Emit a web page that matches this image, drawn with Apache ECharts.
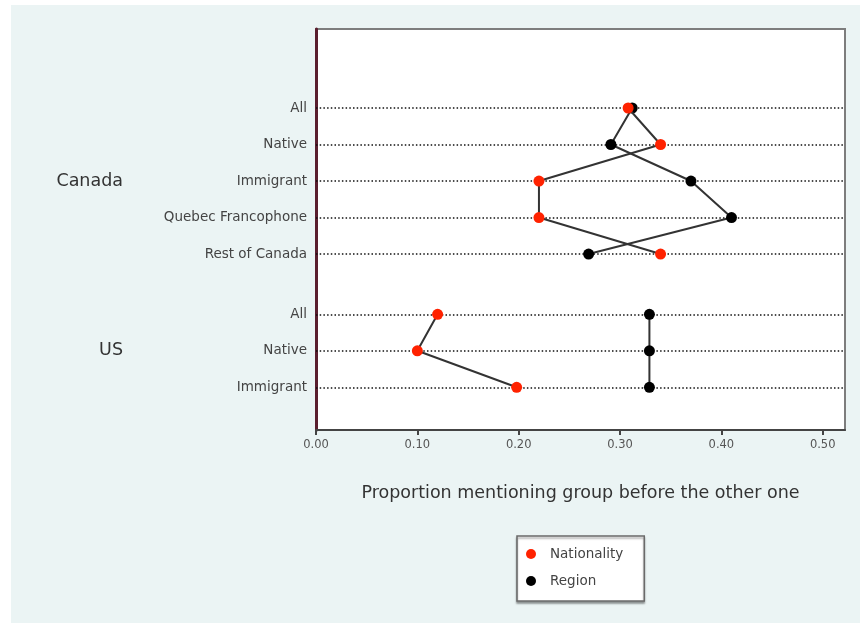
<!DOCTYPE html>
<html>
<head>
<meta charset="utf-8">
<script src="https://cdn.jsdelivr.net/npm/echarts@6/dist/echarts.min.js"></script>
<style>
  html, body { margin: 0; padding: 0; background: #ffffff; }
  #chart { position: absolute; left: 11px; top: 5px; width: 849px; height: 618px; }
</style>
</head>
<body>
<div id="chart"></div>
<script>
// Row labels for each country block
const canadaRows = ['All', 'Native', 'Immigrant', 'Quebec Francophone', 'Rest of Canada'];
const usRows = ['All', 'Native', 'Immigrant'];
const groupNames = ['Canada', 'US'];

// Proportion mentioning each group first
const canadaNationality = [0.308, 0.340, 0.220, 0.220, 0.340];
const canadaRegion      = [0.312, 0.291, 0.370, 0.410, 0.269];
const usNationality     = [0.120, 0.100, 0.198];
const usRegion          = [0.329, 0.329, 0.329];

// Horizontal axis ticks
const xTicks = [0, 0.1, 0.2, 0.3, 0.4, 0.5];

// Vertical layout: one unit per row, with a wider gap between the two blocks
const blockGap = 1.65;
const canadaPos = canadaRows.map((_, i) => i);
const usPos = usRows.map((_, i) => canadaRows.length - 1 + blockGap + i);
const allPos = canadaPos.concat(usPos);
const rowLabel = {};
canadaPos.forEach((p, i) => { rowLabel[p.toFixed(2)] = canadaRows[i]; });
usPos.forEach((p, i) => { rowLabel[p.toFixed(2)] = usRows[i]; });
const groupPos = [canadaPos[Math.floor(canadaPos.length / 2)], usPos[Math.floor(usPos.length / 2)]];
const groupLabel = {};
groupPos.forEach((p, i) => { groupLabel[p.toFixed(2)] = groupNames[i]; });

function pairs(xs, ys) { return xs.map((v, i) => [v, ys[i]]); }
// null between blocks keeps the two countries unconnected
const nationalityData = pairs(canadaNationality, canadaPos).concat([[null, null]], pairs(usNationality, usPos));
const regionData = pairs(canadaRegion, canadaPos).concat([[null, null]], pairs(usRegion, usPos));

const FONT = 'DejaVu Sans';
const chart = echarts.init(document.getElementById('chart'), null, { renderer: 'canvas' });

chart.setOption({
  backgroundColor: '#ebf4f4',
  animation: false,
  textStyle: { fontFamily: FONT },
  grid: {
    left: 305, top: 24, right: 15, bottom: 193,
    show: true, backgroundColor: '#ffffff', borderColor: '#7d7d7d', borderWidth: 2
  },
  legend: {
    data: ['Nationality', 'Region'],
    orient: 'vertical',
    left: 506, top: 531,
    icon: 'circle',
    itemWidth: 10, itemHeight: 10, itemGap: 11,
    padding: [10, 21, 12, 9],
    backgroundColor: '#ffffff',
    borderColor: '#6a6a6a', borderWidth: 1.5,
    shadowColor: 'rgba(0,0,0,0.35)', shadowBlur: 2, shadowOffsetY: 2,
    textStyle: { fontFamily: FONT, fontSize: 13.5, color: '#444', lineHeight: 16, padding: [0, 0, 0, 9] }
  },
  xAxis: {
    type: 'value',
    min: 0, max: 0.522,
    name: 'Proportion mentioning group before the other one',
    nameLocation: 'middle', nameGap: 54,
    nameTextStyle: { fontFamily: FONT, fontSize: 17.5, color: '#333' },
    axisLine: { show: true, onZero: false, lineStyle: { color: '#444', width: 2 } },
    axisTick: { show: true, length: 5, customValues: xTicks, lineStyle: { color: '#444', width: 2 } },
    axisLabel: {
      customValues: xTicks, margin: 9,
      fontFamily: FONT, fontSize: 11.5, color: '#555',
      formatter: v => v.toFixed(2)
    },
    splitLine: { show: false }
  },
  yAxis: [{
    type: 'value',
    inverse: true,
    min: -2.164, max: 8.82,
    position: 'left',
    axisLine: { show: true, onZero: false, lineStyle: { color: '#5a1e2e', width: 3 } },
    axisTick: { show: false },
    splitLine: { show: false },
    axisLabel: {
      customValues: allPos, margin: 9,
      fontFamily: FONT, fontSize: 13.5, color: '#444',
      formatter: v => rowLabel[v.toFixed(2)] || ''
    }
  }, {
    type: 'value',
    inverse: true,
    min: -2.164, max: 8.82,
    position: 'left',
    offset: 193,
    axisLine: { show: false },
    axisTick: { show: false },
    splitLine: { show: false },
    axisLabel: {
      customValues: groupPos, margin: 0,
      fontFamily: FONT, fontSize: 17.5, color: '#333',
      formatter: v => groupLabel[v.toFixed(2)] || ''
    }
  }],
  series: [{
    name: 'Region',
    type: 'line',
    yAxisIndex: 0,
    data: regionData,
    connectNulls: false,
    symbol: 'circle', symbolSize: 11,
    itemStyle: { color: '#000000' },
    lineStyle: { color: '#333333', width: 2 },
    z: 3,
    markLine: {
      z: 1,
      silent: true,
      symbol: ['none', 'none'],
      label: { show: false },
      lineStyle: { color: '#111', width: 1.5, type: [1.5, 2.2] },
      data: allPos.map(p => ({ yAxis: p }))
    }
  }, {
    name: 'Nationality',
    type: 'line',
    yAxisIndex: 0,
    data: nationalityData,
    connectNulls: false,
    symbol: 'circle', symbolSize: 11,
    itemStyle: { color: '#ff2200' },
    lineStyle: { color: '#333333', width: 2 },
    z: 4
  }]
});
</script>
</body>
</html>
